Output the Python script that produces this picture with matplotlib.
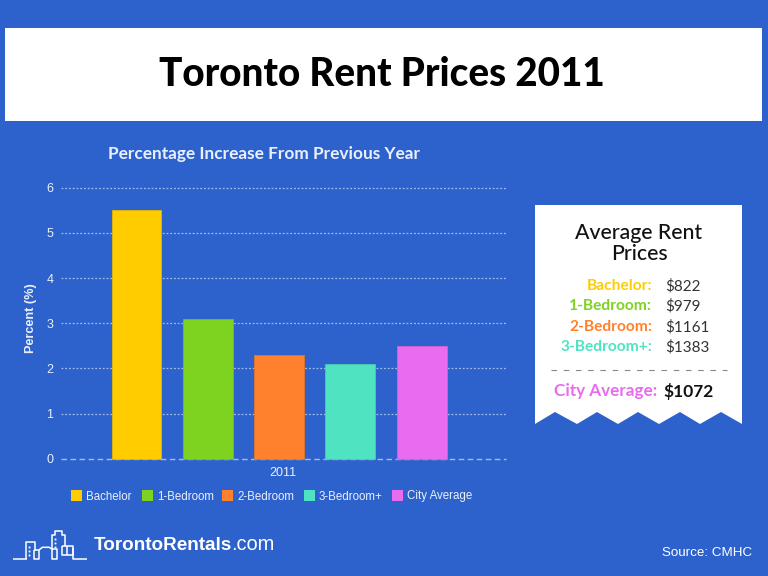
import matplotlib
matplotlib.use("Agg")
import matplotlib.pyplot as plt
from matplotlib.patches import Rectangle, Polygon

categories = ["Bachelor", "1-Bedroom", "2-Bedroom", "3-Bedroom+", "City Average"]
increase = [5.5, 3.1, 2.3, 2.1, 2.5]
colors = ["#FFCC00", "#7ED321", "#FF812D", "#50E3C2", "#E96BF0"]
yticks = [0, 1, 2, 3, 4, 5, 6]
year = "2011"
rent_labels = ["Bachelor:", "1-Bedroom:", "2-Bedroom:", "3-Bedroom+:"]
rent_values = ["$822", "$979", "$1161", "$1383"]
city_label = "City Average:"
city_value = "$1072"

BG = "#2D62CC"
W, H = 768, 576
fig = plt.figure(figsize=(W / 100, H / 100), dpi=100, facecolor=BG)

# overlay in pixel coordinates (y down)
ov = fig.add_axes([0, 0, 1, 1], zorder=3)
ov.set_xlim(0, W)
ov.set_ylim(H, 0)
ov.axis("off")
ov.patch.set_alpha(0)

ov.add_patch(Rectangle((5, 28), 757, 93, fc="white", ec="none"))
ov.text(382, 75, "Toronto Rent Prices 2011", fontsize=27.8, family="Lato",
        weight="black", ha="center", va="center", color="black")
ov.text(264, 153.5, "Percentage Increase From Previous Year", fontsize=12.4, family="Lato",
        weight="bold", ha="center", va="center", color="#EAF0FB")

# chart
L, R, T, B = 61, 506, 187.7, 458.7
ax = fig.add_axes([L / W, 1 - B / H, (R - L) / W, (B - T) / H], zorder=2)
ax.patch.set_alpha(0)
spacing = 71.3
x0 = (L - 136.5) / spacing
x1 = (R - 136.5) / spacing
ax.set_xlim(x0, x1)
ax.set_ylim(0, 6)
ax.bar(range(len(increase)), increase, width=0.70, color=colors, zorder=3, clip_on=False,
       edgecolor=["#E0B400", "#72BE1E", "#E67428", "#48CCAE", "#D261D8"], linewidth=0.6)
ax.set_yticks(yticks)
ax.set_yticklabels([str(v) for v in yticks], fontsize=9, color="#EAF0FB", family="Liberation Sans")
ax.tick_params(axis="y", length=0, pad=5.5)
ax.set_xticks([(x0 + x1) / 2 - 0.014])
ax.set_xticklabels([year], fontsize=9, color="#EAF0FB", family="Liberation Sans")
ax.tick_params(axis="x", length=0, pad=6)
ax.grid(axis="y", color="#A3BAEC", linestyle=(0, (1.5, 1.5)), linewidth=0.9, zorder=1, clip_on=False)
ax.get_ygridlines()[0].set_visible(False)
ax.set_axisbelow(True)
for s in ax.spines.values():
    s.set_visible(False)
ax.axhline(0, color="#A3BAEC", linestyle=(0, (4, 2.5)), linewidth=1.0, zorder=2, clip_on=False)
ax.set_ylabel("Percent (%)", fontsize=9.1, weight="bold", color="#EAF0FB",
              family="Liberation Sans", labelpad=0)
ax.yaxis.set_label_coords((37 - L) / (R - L), 0.52)

# legend
legend_x = [71, 142, 222, 304, 392]
for x, c, name in zip(legend_x, colors, categories):
    ov.add_patch(Rectangle((x, 489.5), 11, 11, fc=c, ec="none"))
    ov.text(x + 15, 495, name, fontsize=8.3, family="Liberation Sans",
            color="#EAF0FB", ha="left", va="center_baseline")

# receipt panel
zig = [(535, 424), (555, 412), (577, 424), (597, 412), (618, 424), (638, 412),
       (659, 424), (680, 412), (700, 424), (721, 412), (742, 424)]
ov.add_patch(Polygon([(535, 205), (742, 205)] + zig[::-1], closed=True, fc="white", ec="none"))
ov.text(639, 233, "Average Rent", fontsize=15.3, family="Lato", weight="medium",
        ha="center", va="center", color="#111111")
ov.text(639, 254, "Prices", fontsize=15.3, family="Lato", weight="medium",
        ha="center", va="center", color="#111111")
ys = [286, 306, 327, 347]
for y, lab, val, c in zip(ys, rent_labels, rent_values, colors):
    ov.text(652, y, lab, fontsize=11.2, family="Lato", weight="bold", ha="right", va="center", color=c)
    ov.text(665, y, val, fontsize=11, family="Lato", ha="left", va="center", color="#333333")
ov.plot([551, 727], [370, 370], color="#888888", lw=0.8, linestyle=(0, (5, 6)))
ov.text(657, 391, city_label, fontsize=12.3, family="Lato", weight="bold", ha="right", va="center", color=colors[4])
ov.text(663, 391, city_value, fontsize=12.5, family="Lato", weight="bold", ha="left", va="center", color="#111111")

# logo
logo = [
    [(13.3, 559.3), (27.3, 559.3)],
    [(25.7, 559), (25.7, 542), (35, 542), (35, 550)],
    [(34, 550), (34, 559), (39, 559), (39, 550), (34, 550)],
    [(39, 550), (42.3, 547.3), (49.3, 547.3), (51.7, 549)],
    [(51.7, 549), (51.7, 535), (55, 535), (55, 531), (61.7, 531), (61.7, 535), (65, 535), (65, 546)],
    [(51.7, 549), (51.7, 559), (57.3, 559), (57.3, 549), (51.7, 549)],
    [(61.7, 546), (61.7, 554.5), (72.7, 554.5), (72.7, 546), (61.7, 546)],
    [(67, 546), (67, 554.5)],
    [(73, 548), (73, 559.3), (87, 559.3)],
]
for seg in logo:
    ov.plot(*zip(*seg), color="white", lw=1.1, solid_capstyle="butt")
ov.plot([29, 29, 29, 55, 55, 55], [546.5, 550.5, 554.5, 538.5, 542.5, 546.5], ls="none",
        marker="s", ms=1.3, color="white", mew=0)
ov.text(93.5, 545, "TorontoRentals", fontsize=13.6, family="Liberation Sans", weight="bold",
        color="white", ha="left", va="center")
ov.text(231, 545, ".com", fontsize=14.4, family="Liberation Sans", color="white", ha="left", va="center")
ov.text(752, 553, "Source: CMHC", fontsize=9.6, family="Liberation Sans", color="white", ha="right", va="center")

fig.savefig("out.png", dpi=100, facecolor=BG)
